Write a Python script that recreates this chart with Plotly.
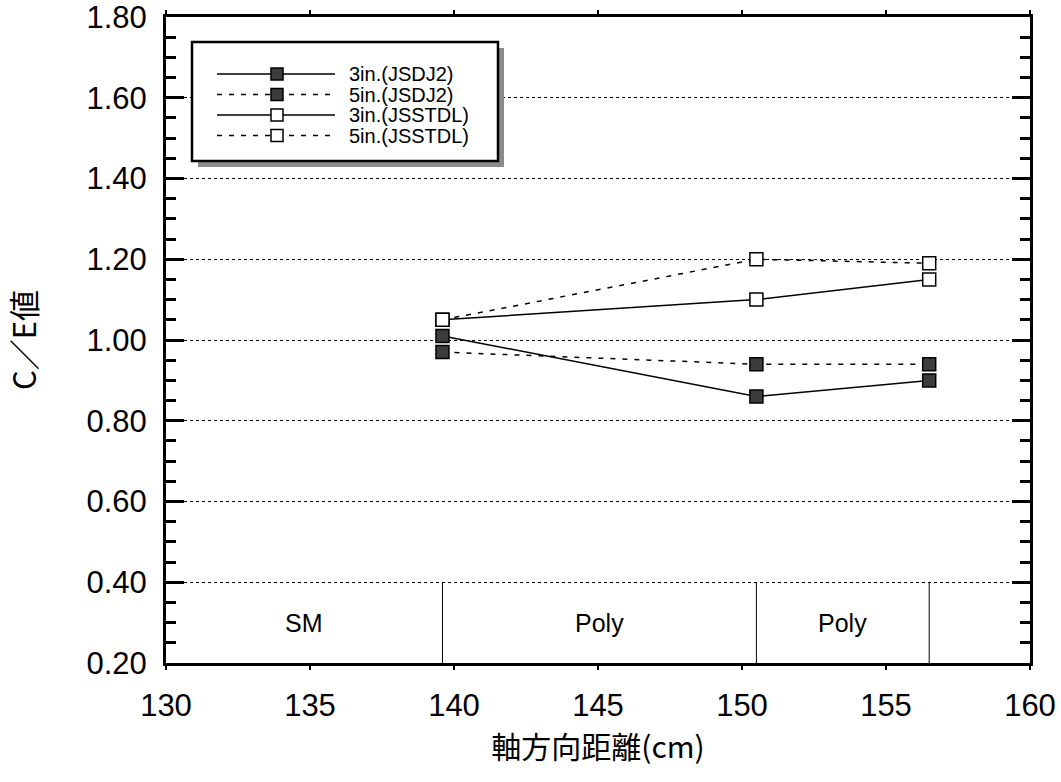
import plotly.graph_objects as go

# Axial positions of the measurement points (cm)
positions = [139.6, 150.5, 156.5]

# C/E values per case
ce_3in_jsdj2 = [1.01, 0.86, 0.90]
ce_5in_jsdj2 = [0.97, 0.94, 0.94]
ce_3in_jsstdl = [1.05, 1.10, 1.15]
ce_5in_jsstdl = [1.05, 1.20, 1.19]

series_names = ["3in.(JSDJ2)", "5in.(JSDJ2)", "3in.(JSSTDL)", "5in.(JSSTDL)"]

# Material zones along the axis
zone_edges = [130, 139.6, 150.5, 156.5, 160]
zone_labels = ["SM", "Poly", "Poly", ""]

x_ticks = [130, 135, 140, 145, 150, 155, 160]
y_ticks = [0.20, 0.40, 0.60, 0.80, 1.00, 1.20, 1.40, 1.60, 1.80]

font_latin = "Liberation Sans, Arial, sans-serif"
font_cjk = "Noto Sans CJK JP, sans-serif"

W, H = 1061, 782
M_L, M_R, M_T, M_B = 166, 31, 17, 119
PW, PH = W - M_L - M_R, H - M_T - M_B


def px(xp):
    """Horizontal pixel position -> paper coordinate."""
    return (xp - M_L) / PW


def py(yp):
    """Vertical pixel position (from top) -> paper coordinate."""
    return 1 - (yp - M_T) / PH


DARK = "#3c3c3c"
DASH = "5px,7px"

fig = go.Figure()

styles = [
    (ce_3in_jsdj2, "solid", DARK),
    (ce_5in_jsdj2, DASH, DARK),
    (ce_3in_jsstdl, "solid", "white"),
    (ce_5in_jsstdl, DASH, "white"),
]
for name, (vals, dash, fill) in zip(series_names, styles):
    fig.add_trace(go.Scatter(
        x=positions, y=vals, name=name, mode="lines+markers",
        showlegend=False,
        line=dict(color="black", width=1.5, dash=dash),
        marker=dict(symbol="square", size=13, color=fill,
                    line=dict(color="black", width=1.5)),
    ))

# Zone separators and labels in the bottom band
for edge in zone_edges[1:-1]:
    fig.add_shape(type="line", x0=edge, x1=edge, y0=0.20, y1=0.40,
                  xref="x", yref="y", line=dict(color="black", width=1))
for lo, hi, lab in zip(zone_edges[:-1], zone_edges[1:], zone_labels):
    if lab:
        fig.add_annotation(x=(lo + hi) / 2, y=0.30, text=lab, showarrow=False,
                           xref="x", yref="y",
                           font=dict(family=font_latin, size=25, color="black"))

# Legend box with drop shadow
box_l, box_r, box_t, box_b = 192, 498, 42, 161
shadow = 6
fig.add_shape(type="rect", xref="paper", yref="paper",
              x0=px(box_l + shadow), x1=px(box_r + shadow),
              y0=py(box_b + shadow), y1=py(box_t + shadow),
              fillcolor="#8c8c8c", line=dict(width=0))
fig.add_shape(type="rect", xref="paper", yref="paper",
              x0=px(box_l), x1=px(box_r), y0=py(box_b), y1=py(box_t),
              fillcolor="white", line=dict(color="black", width=2.5))

row_y = [74, 94.5, 115, 135.5]
for name, (vals, dash, fill), ry in zip(series_names, styles, row_y):
    fig.add_shape(type="line", xref="paper", yref="paper",
                  x0=px(217), x1=px(335), y0=py(ry), y1=py(ry),
                  line=dict(color="black", width=1.5, dash=dash))
    fig.add_shape(type="rect", xref="paper", yref="paper",
                  x0=px(271), x1=px(283), y0=py(ry + 6), y1=py(ry - 6),
                  fillcolor=fill, line=dict(color="black", width=1.5))
    fig.add_annotation(xref="paper", yref="paper", x=px(347), y=py(ry),
                       xanchor="left", yanchor="middle", text=name,
                       showarrow=False,
                       font=dict(family=font_latin, size=20, color="black"))

fig.update_layout(
    width=W, height=H,
    margin=dict(l=M_L, r=M_R, t=M_T, b=M_B),
    paper_bgcolor="white", plot_bgcolor="white",
    showlegend=False,
    xaxis=dict(
        range=[130, 160], tickvals=x_ticks,
        ticks="outside", ticklen=4, tickwidth=2, tickcolor="black",
        showline=True, linecolor="black", linewidth=3, mirror="ticks",
        showgrid=False, zeroline=False, ticklabelstandoff=9,
        ticklabeloverflow="allow",
        tickfont=dict(family=font_latin, size=31, color="black"),
        title=dict(text="軸方向距離(cm)", standoff=3,
                   font=dict(family=font_cjk, size=30, color="black")),
        automargin=False,
    ),
    yaxis=dict(
        range=[0.20, 1.80], tickvals=y_ticks, ticktext=[f"{v:.2f}" for v in y_ticks],
        ticks="inside", ticklen=18, tickwidth=2.5, tickcolor="black",
        showline=True, linecolor="black", linewidth=3, mirror="ticks",
        showgrid=True, gridcolor="black", gridwidth=1, griddash="dot",
        zeroline=False, ticklabelstandoff=10,
        ticklabeloverflow="allow",
        minor=dict(dtick=0.05, ticks="inside", ticklen=10, tickwidth=2.5,
                   tickcolor="black", showgrid=False),
        tickfont=dict(family=font_latin, size=31, color="black"),
        title=dict(text="C／E値", standoff=46,
                   font=dict(family=font_cjk, size=31, color="black")),
        automargin=False,
    ),
)

fig.write_html("out.html")
